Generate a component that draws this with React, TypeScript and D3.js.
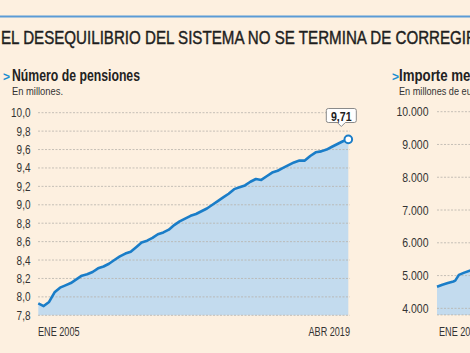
import React from "react";
import * as d3 from "d3";

// Número de pensiones (millones), trimestral desde ene 2005 hasta abr 2019
const pensionDates = d3.range(0, 58).map((q) => new Date(2005, q * 3, 1));
const pensionValues = [
  7.93, 7.9, 7.945, 8.05, 8.1, 8.125, 8.15, 8.19, 8.23, 8.245, 8.27, 8.31,
  8.33, 8.36, 8.4, 8.44, 8.47, 8.49, 8.54, 8.59, 8.61, 8.64, 8.68, 8.7,
  8.73, 8.78, 8.82, 8.85, 8.88, 8.9, 8.93, 8.96, 9.0, 9.04, 9.08, 9.12,
  9.17, 9.19, 9.21, 9.25, 9.28, 9.27, 9.31, 9.35, 9.37, 9.4, 9.43, 9.46,
  9.48, 9.48, 9.53, 9.57, 9.58, 9.6, 9.63, 9.66, 9.69, 9.71,
];

// Importe mensual (millones de euros), solo el tramo visible
const importeDates = [0, 3, 6, 9, 10, 12, 15, 18, 21].map((m) => new Date(2005, m, 1));
const importeValues = [4660, 4720, 4770, 4820, 4845, 5020, 5090, 5150, 5200];

const leftTicks = [7.8, 8.0, 8.2, 8.4, 8.6, 8.8, 9.0, 9.2, 9.4, 9.6, 9.8, 10.0];
const rightTicks = [4000, 5000, 6000, 7000, 8000, 9000, 10000];
const xLabels = ["ENE 2005", "ABR 2019"];

const W = 470;
const H = 353;
const BG = "#fdf0e0";
const LINE = "#1a7dc8";
const AREA = "#c3dbee";
const GRID = "#b9b4ad";
const FONT = "'Liberation Sans', Arial, sans-serif";

// texto estrechado (la fuente original es condensada)
const Txt = ({ x, y, sx = 0.8, size = 12.5, anchor = "start", weight = "normal", fill = "#333", children }: any) => (
  <g transform={`translate(${x},${y}) scale(${sx},1)`}>
    <text fontSize={size} textAnchor={anchor} fontWeight={weight} fill={fill}>
      {children}
    </text>
  </g>
);

export default function App() {
  const start = new Date(2005, 0, 1);
  const end = new Date(2019, 3, 1);

  // panel izquierdo
  const xL = d3.scaleTime().domain([start, end]).range([38.3, 348.3]);
  const yL = d3.scaleLinear().domain([7.8, 10.0]).range([315.3, 112.7]);
  const pts = pensionDates.map((d, i) => ({ d, v: pensionValues[i] }));
  const areaL = d3
    .area<{ d: Date; v: number }>()
    .x((p) => xL(p.d))
    .y0(yL(7.8))
    .y1((p) => yL(p.v));
  const lineL = d3
    .line<{ d: Date; v: number }>()
    .x((p) => xL(p.d))
    .y((p) => yL(p.v));

  // panel derecho
  const xR = d3.scaleTime().domain([start, end]).range([437, 749]);
  const yR = d3.scaleLinear().domain([3800, 10000]).range([314.9, 111.7]);
  const ptsR = importeDates.map((d, i) => ({ d, v: importeValues[i] }));
  const areaR = d3
    .area<{ d: Date; v: number }>()
    .x((p) => xR(p.d))
    .y0(yR(3800))
    .y1((p) => yR(p.v));
  const lineR = d3
    .line<{ d: Date; v: number }>()
    .x((p) => xR(p.d))
    .y((p) => yR(p.v));

  const fmtL = (v: number) => v.toFixed(1).replace(".", ",");
  const fmtR = (v: number) => d3.format(",")(v).replace(",", ".");

  const last = pts[pts.length - 1];
  const lx = xL(last.d);
  const ly = yL(last.v);
  const bx = lx - 7;
  const by = 116.5;

  return (
    <svg
      width={W}
      height={H}
      style={{ position: "absolute", left: 0, top: 0 }}
      fontFamily={FONT}
    >
      <rect width={W} height={H} fill={BG} />
      <line x1={0} x2={W} y1={16.5} y2={16.5} stroke="#5b9bd6" strokeWidth={2} />
      <text
        x={1}
        y={44}
        fontSize={19}
        fill="#1e1e1e"
        stroke="#1e1e1e"
        strokeWidth={0.45}
        textLength={476}
        lengthAdjust="spacingAndGlyphs"
      >
        EL DESEQUILIBRIO DEL SISTEMA NO SE TERMINA DE CORREGIR
      </text>

      {/* subtítulos */}
      <text x={3} y={81} fontSize={12} fill="#1a8fd0" fontWeight="bold">{">"}</text>
      <text x={12} y={81} fontSize={16} fill="#222" fontWeight="bold" textLength={128} lengthAdjust="spacingAndGlyphs">
        Número de pensiones
      </text>
      <text x={12} y={94.5} fontSize={10.5} fill="#333" textLength={51} lengthAdjust="spacingAndGlyphs">
        En millones.
      </text>
      <text x={392} y={81} fontSize={12} fill="#1a8fd0" fontWeight="bold">{">"}</text>
      <text x={399} y={81} fontSize={16} fill="#222" fontWeight="bold" textLength={106} lengthAdjust="spacingAndGlyphs">
        Importe mensual
      </text>
      <text x={399} y={94.5} fontSize={10.5} fill="#333" textLength={88} lengthAdjust="spacingAndGlyphs">
        En millones de euros.
      </text>

      {/* panel izquierdo */}
      <path d={areaL(pts) || ""} fill={AREA} />
      {leftTicks.map((t) => (
        <g key={t}>
          <line
            x1={38}
            x2={350}
            y1={yL(t)}
            y2={yL(t)}
            stroke={GRID}
            strokeWidth={1}
            strokeDasharray="2,1.5"
            opacity={0.8}
          />
          <Txt x={30.5} y={yL(t) + 4.5} anchor="end">{fmtL(t)}</Txt>
        </g>
      ))}
      <path d={lineL(pts) || ""} fill="none" stroke={LINE} strokeWidth={2.6} strokeLinejoin="round" />
      <Txt x={38} y={336} size={12} sx={0.76}>{xLabels[0]}</Txt>
      <Txt x={350} y={336} size={12} sx={0.76} anchor="end">{xLabels[1]}</Txt>

      {/* etiqueta último valor */}
      <path
        d={`M${bx - 13},${by - 8} h26 a2,2 0 0 1 2,2 v10 a2,2 0 0 1 -2,2 h-9 l-4,4 l-4,-4 h-9 a2,2 0 0 1 -2,-2 v-10 a2,2 0 0 1 2,-2 z`}
        fill="#fff"
        stroke="#8a8a8a"
        strokeWidth={1}
      />
      <Txt x={bx} y={by + 4.5} size={12.5} sx={0.85} weight="bold" anchor="middle" fill="#222">
        {last.v.toFixed(2).replace(".", ",")}
      </Txt>
      <circle cx={lx} cy={ly} r={3.8} fill="#fff" stroke={LINE} strokeWidth={2} />

      {/* panel derecho */}
      <path d={areaR(ptsR) || ""} fill={AREA} />
      {rightTicks.map((t) => (
        <g key={t}>
          <line
            x1={437}
            x2={W}
            y1={yR(t)}
            y2={yR(t)}
            stroke={GRID}
            strokeWidth={1}
            strokeDasharray="2,1.5"
            opacity={0.8}
          />
          <Txt x={428.5} y={yR(t) + 4.5} anchor="end" sx={0.84}>{fmtR(t)}</Txt>
        </g>
      ))}
      <line x1={437} x2={W} y1={yR(3800)} y2={yR(3800)} stroke={GRID} strokeDasharray="2,1.5" opacity={0.8} />
      <path d={lineR(ptsR) || ""} fill="none" stroke={LINE} strokeWidth={2.6} strokeLinejoin="round" />
      <Txt x={439} y={336} size={12} sx={0.76}>{xLabels[0]}</Txt>
    </svg>
  );
}
